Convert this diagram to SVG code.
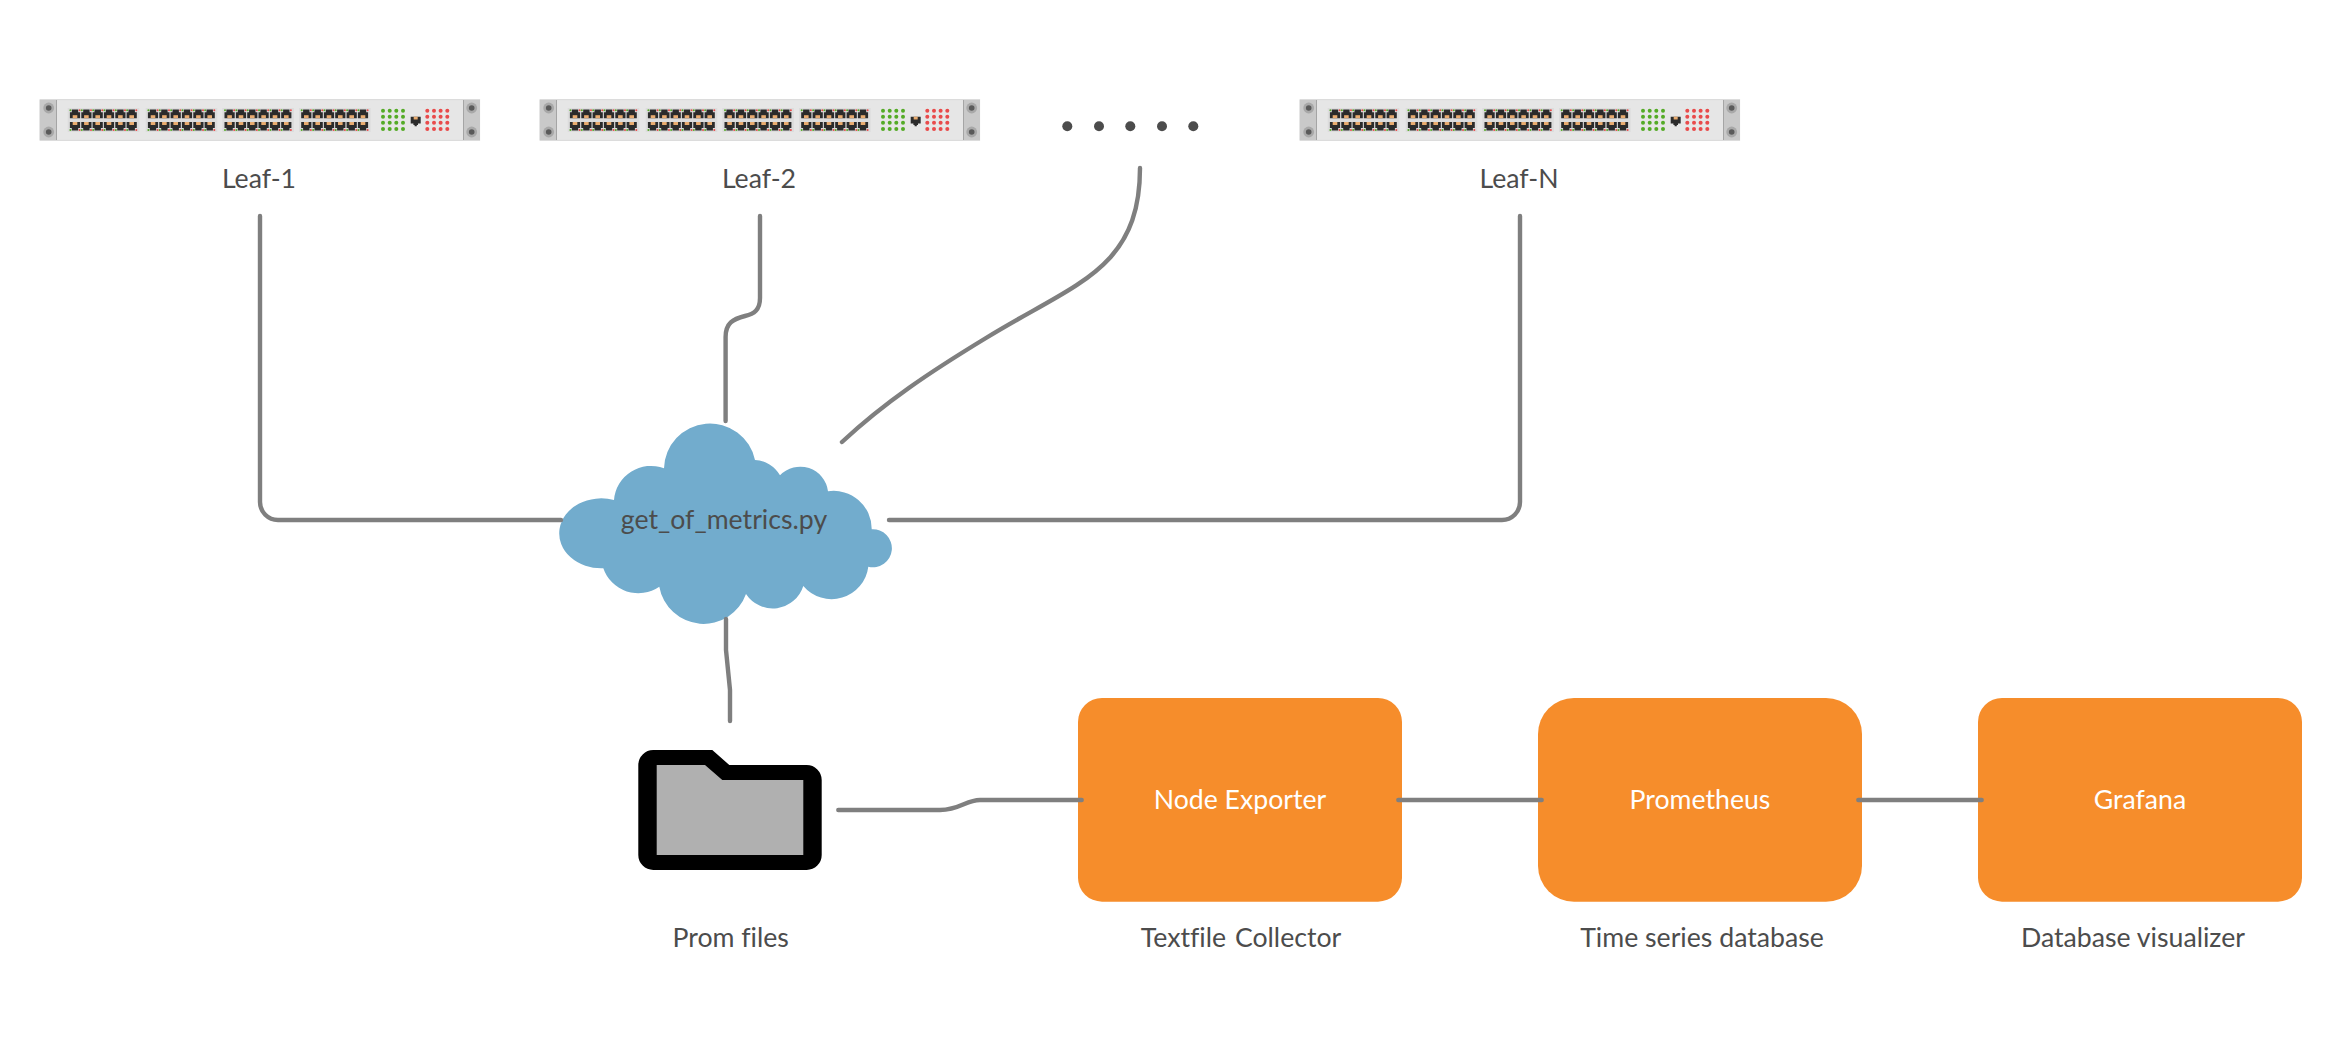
<svg xmlns="http://www.w3.org/2000/svg" xmlns:xlink="http://www.w3.org/1999/xlink" width="2340" height="1052" viewBox="0 0 2340 1052">
<style>
text{font-family:"Lato","Noto Sans",sans-serif;font-size:26.67px;fill:#4c4c4c;text-anchor:middle;font-variant-ligatures:none}
.w{fill:#fff}
.c{fill:none;stroke:#7f7f7f;stroke-width:4.4;stroke-linecap:round;stroke-linejoin:round}
.box{fill:#f68d2b}
.ear{fill:#c9c9c9}
.g{fill:#54ab26}
.r{fill:#e94a4a}
.dk{fill:#2b2b2b}
.or{fill:#e9ac70}
.dot{fill:#4c4c4c}
</style>
<defs>
<g id="screw"><circle r="5.4" fill="#a8a8a8"/><circle r="2.8" fill="#5a5a5a"/></g>
<g id="portPair">
<path class="dk" d="M-5.1 112.3H-3.2V109.6H3.2V112.3H5.1V118.2H-5.1Z"/>
<rect class="or" x="-2.3" y="115.2" width="4.6" height="3"/>
<circle class="g" cx="-4.6" cy="110.2" r="1"/><circle class="r" cx="4.6" cy="110.2" r="1"/>
<path class="dk" d="M-5.1 122H5.1V127.9H3.2V130.6H-3.2V127.9H-5.1Z"/>
<rect class="or" x="-2.3" y="122" width="4.6" height="3"/>
<circle class="g" cx="-4.6" cy="130" r="1"/><circle class="r" cx="4.6" cy="130" r="1"/>
</g>
<g id="portGroup">
<rect x="0" y="108" width="71.6" height="24" fill="#dcdcdc"/>
<use xlink:href="#portPair" href="#portPair" x="7.3"/>
<use xlink:href="#portPair" href="#portPair" x="18.7"/>
<use xlink:href="#portPair" href="#portPair" x="30"/>
<use xlink:href="#portPair" href="#portPair" x="41.3"/>
<use xlink:href="#portPair" href="#portPair" x="52.7"/>
<use xlink:href="#portPair" href="#portPair" x="64"/>
</g>
<g id="dots">
<g id="d1"><circle cx="0" cy="0" r="2"/><circle cx="6.7" cy="0" r="2"/><circle cx="13.3" cy="0" r="2"/><circle cx="20" cy="0" r="2"/></g>
<use xlink:href="#d1" href="#d1" y="6"/><use xlink:href="#d1" href="#d1" y="12"/><use xlink:href="#d1" href="#d1" y="18.2"/>
</g>
<g id="switch">
<rect x="40.2" y="99.6" width="439.3" height="40.8" fill="#e6e6e6" stroke="#dcdcdc" stroke-width="1.2"/>
<rect class="ear" x="39.7" y="100" width="17" height="40"/>
<rect class="ear" x="463.3" y="100" width="16.7" height="40"/>
<path d="M56.5 100V140M463.5 100V140" stroke="#a5a5a5" stroke-width="1" fill="none"/>
<use xlink:href="#screw" href="#screw" x="48.7" y="108"/>
<use xlink:href="#screw" href="#screw" x="48.7" y="132"/>
<use xlink:href="#screw" href="#screw" x="471.7" y="108"/>
<use xlink:href="#screw" href="#screw" x="471.7" y="132"/>
<use xlink:href="#portGroup" href="#portGroup" x="67.7"/>
<use xlink:href="#portGroup" href="#portGroup" x="145.7"/>
<use xlink:href="#portGroup" href="#portGroup" x="222.3"/>
<use xlink:href="#portGroup" href="#portGroup" x="299"/>
<use xlink:href="#dots" href="#dots" x="383" y="110.7" class="g"/>
<use xlink:href="#dots" href="#dots" x="427.3" y="110.7" class="r"/>
<path class="dk" d="M410.7 116.7H420.7V123.5H418V125H416.8V126.2H414.6V125H413.4V123.5H410.7Z"/>
<rect class="or" x="413.7" y="116.7" width="4" height="2.8"/>
</g>
</defs>
<rect width="2340" height="1052" fill="#fff"/>

<g id="leaf-1"><use xlink:href="#switch" href="#switch"/><text x="259" y="188">Leaf-1</text></g>
<g id="leaf-2"><use xlink:href="#switch" href="#switch" x="500"/><text x="759" y="188">Leaf-2</text></g>
<g id="ellipsis"><circle class="dot" cx="1067.3" cy="126.3" r="5"/><circle class="dot" cx="1099" cy="126.3" r="5"/><circle class="dot" cx="1130.3" cy="126.3" r="5"/><circle class="dot" cx="1162" cy="126.3" r="5"/><circle class="dot" cx="1193.3" cy="126.3" r="5"/></g>
<g id="leaf-n"><use xlink:href="#switch" href="#switch" x="1260"/><text x="1519" y="188">Leaf-N</text></g>

<g id="cloud">
<path fill="#72accd" d="M614 500A37 37 0 0 1 664 468.3A46 46 0 0 1 755 460A30 30 0 0 1 780 475.3A28 28 0 0 1 828 491.3A38 38 0 0 1 871.7 529.3A19 19 0 1 1 868.3 566.7A37 37 0 0 1 803.3 586A32 32 0 0 1 746 594A45 45 0 0 1 659.3 586.7A37 37 0 0 1 603.3 568.3A42 35 0 1 1 614 500Z"/>
<text x="724" y="529">get_of_metrics.py</text>
</g>
<g id="folder">
<path fill="#000" d="M653.3 750H712.3L729.3 765H806.7A15 15 0 0 1 821.7 780V855A15 15 0 0 1 806.7 870H653.3A15 15 0 0 1 638.3 855V765A15 15 0 0 1 653.3 750Z"/>
<path fill="#b0b0b0" d="M656.7 765H705L722.3 780H803.3V855H656.7Z"/>
<text x="730.7" y="947.3">Prom files</text>
</g>
<g id="node-exporter"><rect class="box" x="1078" y="698" width="324" height="203.7" rx="24"/><text class="w" x="1240" y="809.3">Node Exporter</text><text x="1241" y="947.3" word-spacing="2">Textfile Collector</text></g>
<g id="prometheus"><rect class="box" x="1538" y="698" width="324" height="203.7" rx="36"/><text class="w" x="1700" y="809.3">Prometheus</text><text x="1702" y="947.3">Time series database</text></g>
<g id="grafana"><rect class="box" x="1978" y="698" width="324" height="203.7" rx="24"/><text class="w" x="2140" y="809.3">Grafana</text><text x="2133" y="947.3">Database visualizer</text></g>

<g id="connectors">
<path class="c" d="M260 216V502A18 18 0 0 0 278 520H561"/>
<path class="c" d="M760 216V298C760 310 754 314 745 316C733 319 725.6 323 725.6 337V421"/>
<path class="c" d="M1140 168C1140 270 1075 283 986 338C930 372 885 402 842 442"/>
<path class="c" d="M1520 216V502A18 18 0 0 1 1502 520H889"/>
<path class="c" d="M726 619V650L730 690V721"/>
<path class="c" d="M838.3 810H940C960 810 966 800 980 800H1081.7"/>
<path class="c" d="M1398.3 800H1541.7"/>
<path class="c" d="M1858.3 800H1981.7"/>
</g>
</svg>
